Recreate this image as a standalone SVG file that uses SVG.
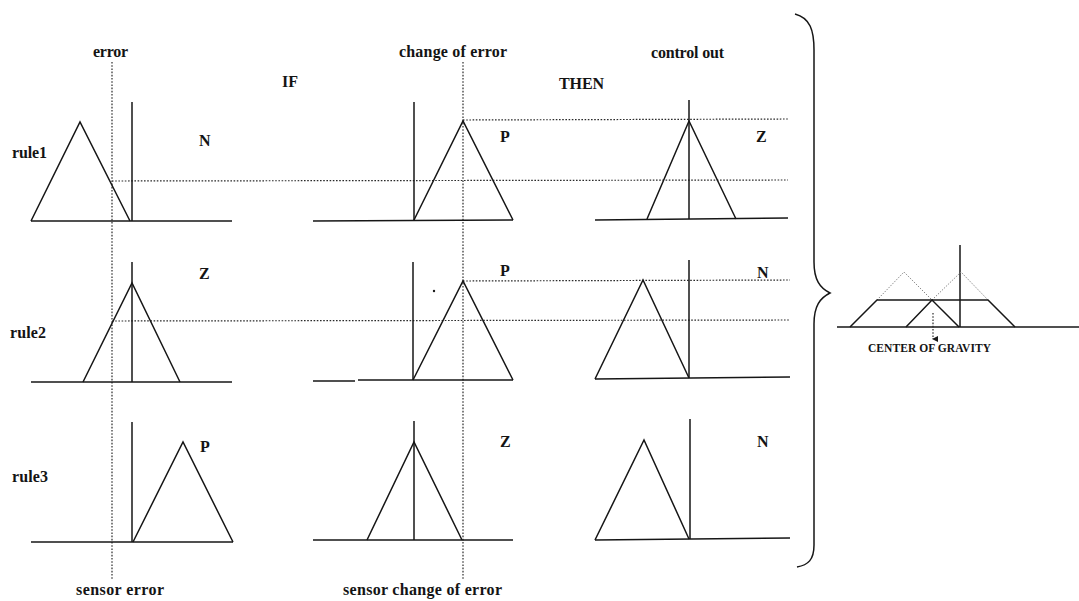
<svg xmlns="http://www.w3.org/2000/svg" width="1079" height="601" viewBox="0 0 1079 601">
<style>
.ln{fill:none;stroke:#161616;stroke-width:1.5;stroke-linejoin:miter}
.dt{fill:none;stroke:#2a2a2a;stroke-width:1.2;stroke-dasharray:1.6 1.6}
.dg{fill:none;stroke:#888;stroke-width:1;stroke-dasharray:1.4 1.4}
.t{font-family:"Liberation Serif","Times New Roman",serif;font-weight:bold;font-size:16px;fill:#141414}
.s{font-family:"Liberation Serif","Times New Roman",serif;font-weight:bold;font-size:11.5px;fill:#141414}
</style>
<defs>
<marker id="ah" viewBox="0 0 6 6" refX="3" refY="5" markerWidth="6" markerHeight="6" markerUnits="userSpaceOnUse" orient="auto-start-reverse">
<path d="M0,0 L6,0 L3,6 Z" fill="#1a1a1a"/>
</marker>
</defs>
<rect width="1079" height="601" fill="#ffffff"/>

<g id="headers">
<text class="t" x="93" y="57" textLength="35">error</text>
<text class="t" x="399" y="57" textLength="108">change of error</text>
<text class="t" x="651" y="58" textLength="73">control out</text>
<text class="t" x="282" y="87">IF</text>
<text class="t" x="559" y="89" textLength="45">THEN</text>
<text class="t" x="12" y="158" textLength="35">rule1</text>
<text class="t" x="10" y="338" textLength="36">rule2</text>
<text class="t" x="12" y="482" textLength="36">rule3</text>
<text class="t" x="76" y="595" textLength="88">sensor error</text>
<text class="t" x="343" y="595" textLength="159">sensor change of error</text>
</g>

<g id="connectors">
<line class="dt" x1="112" y1="62" x2="112" y2="580"/>
<line class="dt" x1="463" y1="62" x2="463" y2="580"/>
<line class="dt" x1="112" y1="181" x2="788" y2="180"/>
<line class="dt" x1="463" y1="120" x2="788" y2="119"/>
<line class="dt" x1="463" y1="281" x2="790" y2="280"/>
<line class="dt" x1="112" y1="321" x2="790" y2="320"/>
</g>

<g id="rule1-error">
<line class="ln" x1="132" y1="102" x2="132" y2="221"/>
<line class="ln" x1="31" y1="221" x2="232" y2="221"/>
<polyline class="ln" points="31,221 80,122 130,221"/>
<text class="t" x="199" y="146">N</text>
</g>
<g id="rule1-change">
<line class="ln" x1="414" y1="102" x2="414" y2="221"/>
<line class="ln" x1="313" y1="221" x2="513" y2="220"/>
<polyline class="ln" points="414,220 463,121 513,220"/>
<text class="t" x="500" y="142">P</text>
</g>
<g id="rule1-control">
<line class="ln" x1="689" y1="100" x2="689" y2="219"/>
<line class="ln" x1="595" y1="220" x2="788" y2="218"/>
<polyline class="ln" points="647,219 689,121 736,219"/>
<text class="t" x="756" y="142">Z</text>
</g>

<g id="rule2-error">
<line class="ln" x1="132" y1="262" x2="132" y2="382"/>
<line class="ln" x1="31" y1="382" x2="232" y2="382"/>
<polyline class="ln" points="83,382 132,283 180,382"/>
<text class="t" x="199" y="279">Z</text>
</g>
<g id="rule2-change">
<line class="ln" x1="413" y1="262" x2="413" y2="380"/>
<line class="ln" x1="313" y1="381" x2="355" y2="381"/>
<line class="ln" x1="358" y1="380" x2="513" y2="380"/>
<polyline class="ln" points="413,380 463,281 513,380"/>
<circle cx="434" cy="291" r="1.2" fill="#1a1a1a"/>
<text class="t" x="500" y="276">P</text>
</g>
<g id="rule2-control">
<line class="ln" x1="689" y1="260" x2="689" y2="378"/>
<line class="ln" x1="595" y1="379" x2="790" y2="377"/>
<polyline class="ln" points="595,379 643,280 689,378"/>
<text class="t" x="757" y="278">N</text>
</g>

<g id="rule3-error">
<line class="ln" x1="132" y1="422" x2="132" y2="542"/>
<line class="ln" x1="31" y1="542" x2="233" y2="542"/>
<polyline class="ln" points="133,542 183,442 233,542"/>
<text class="t" x="200" y="452">P</text>
</g>
<g id="rule3-change">
<line class="ln" x1="414" y1="421" x2="414" y2="540"/>
<line class="ln" x1="313" y1="540" x2="513" y2="540"/>
<polyline class="ln" points="367,540 414,442 462,540"/>
<text class="t" x="500" y="447">Z</text>
</g>
<g id="rule3-control">
<line class="ln" x1="690" y1="419" x2="690" y2="539"/>
<line class="ln" x1="595" y1="540" x2="790" y2="538"/>
<polyline class="ln" points="595,540 644,440 689,539"/>
<text class="t" x="757" y="447">N</text>
</g>

<g id="brace">
<path class="ln" stroke-width="2.2" d="M795,14 C810,18 814,30 814,50 L814,262 C814,280 820,288 830,293 C820,298 814,306 814,324 L814,545 C814,560 808,565 797,567"/>
</g>

<g id="center-of-gravity">
<line class="ln" stroke-width="1.1" x1="960" y1="245" x2="960" y2="327"/>
<line class="ln" stroke-width="1.2" x1="837" y1="327" x2="1079" y2="327"/>
<polyline class="dg" points="877,300 904,272 932,300"/>
<polyline class="dg" points="932,300 961,272 988,300"/>
<polyline class="ln" stroke-width="1.1" points="850,327 877,300 988,300 1015,327"/>
<polyline class="ln" stroke-width="1.1" points="906,327 932,300 959,327"/>
<line class="dt" stroke-width="1" x1="933" y1="313" x2="933" y2="339" marker-end="url(#ah)"/>
<text class="s" x="868" y="352" textLength="123">CENTER OF GRAVITY</text>
</g>
</svg>
